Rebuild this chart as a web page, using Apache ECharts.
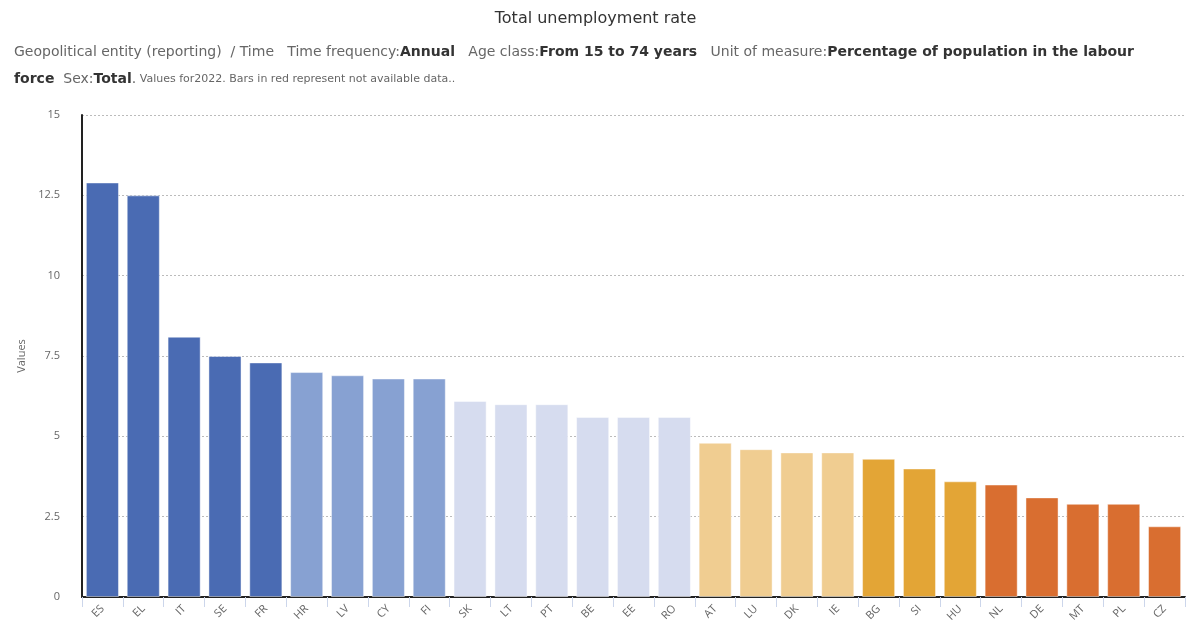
<!DOCTYPE html>
<html>
<head>
<meta charset="utf-8">
<script src="https://cdn.jsdelivr.net/npm/echarts@6/dist/echarts.min.js"></script>
<style>
  html, body { margin: 0; padding: 0; background: #fff; }
  #chart { width: 1191px; height: 626px; }
</style>
</head>
<body>
<div id="chart"></div>
<script>
// Unemployment rate 2022, age 15-74, % of labour force
const countries = ['ES','EL','IT','SE','FR','HR','LV','CY','FI','SK','LT','PT','BE','EE','RO','AT','LU','DK','IE','BG','SI','HU','NL','DE','MT','PL','CZ'];
const rates = [12.9, 12.5, 8.1, 7.5, 7.3, 7.0, 6.9, 6.8, 6.8, 6.1, 6.0, 6.0, 5.6, 5.6, 5.6, 4.8, 4.6, 4.5, 4.5, 4.3, 4.0, 3.6, 3.5, 3.1, 2.9, 2.9, 2.2];
// colour class per bar (index into palette)
const classes = [0,0,0,0,0, 1,1,1,1, 2,2,2,2,2,2, 3,3,3,3, 4,4,4, 5,5,5,5,5];
const palette = ['#4a6bb3', '#87a1d2', '#d6dcef', '#f0cd91', '#e3a536', '#d96e30'];
const yTicks = [0, 2.5, 5, 7.5, 10, 12.5, 15];

const chart = echarts.init(document.getElementById('chart'), null, { renderer: 'canvas' });

const labelFont = 'Open Sans, Noto Sans, sans-serif';
const headFont = 'DejaVu Sans, Verdana, sans-serif';

chart.setOption({
  animation: false,
  textStyle: { fontFamily: labelFont },
  title: [
    {
      text: 'Total unemployment rate',
      left: 'center',
      top: 6,
      textStyle: { fontSize: 16, fontWeight: 'normal', color: '#333', fontFamily: headFont }
    },
    {
      left: 9,
      top: 34,
      text: '{l|Geopolitical entity (reporting)  / Time   Time frequency:}{v|Annual}{l|   Age class:}{v|From 15 to 74 years}{l|   Unit of measure:}{v|Percentage of population in the labour}\n'
          + '{v|force}{l|  Sex:}{v|Total}{l|.}{s| Values for2022. Bars in red represent not available data..}',
      textStyle: {
        fontFamily: headFont,
        lineHeight: 27,
        rich: {
          l: { fontSize: 14, color: '#666', fontWeight: 'normal', lineHeight: 27, fontFamily: headFont },
          v: { fontSize: 14, color: '#333', fontWeight: 'bold', lineHeight: 27, fontFamily: headFont },
          s: { fontSize: 11, color: '#666', fontWeight: 'normal', lineHeight: 27, fontFamily: headFont }
        }
      }
    }
  ],
  grid: { left: 82, right: 6, top: 115, bottom: 29, containLabel: false },
  xAxis: {
    type: 'category',
    data: countries,
    boundaryGap: true,
    axisLine: { lineStyle: { color: '#222', width: 2 } },
    axisTick: { show: true, length: 10, lineStyle: { color: '#ccd6eb' } },
    axisLabel: { rotate: 45, fontSize: 11, color: '#666', margin: 10 }
  },
  yAxis: {
    type: 'value',
    min: 0,
    max: 15,
    interval: 2.5,
    name: 'Values',
    nameLocation: 'middle',
    nameGap: 55,
    nameTextStyle: { fontSize: 11, color: '#666' },
    axisLine: { show: true, lineStyle: { color: '#222', width: 2 } },
    axisTick: { show: false },
    axisLabel: {
      fontSize: 11, color: '#666', margin: 22,
      formatter: v => yTicks.includes(v) ? String(v) : ''
    },
    splitLine: { lineStyle: { color: '#bbb', type: [2, 2], width: 1 } }
  },
  series: [{
    type: 'bar',
    barCategoryGap: '19%',
    data: rates.map((v, i) => ({
      value: v,
      itemStyle: { color: palette[classes[i]] }
    })),
    itemStyle: { borderColor: 'rgba(255,255,255,0.45)', borderWidth: 1 }
  }]
});
</script>
</body>
</html>
